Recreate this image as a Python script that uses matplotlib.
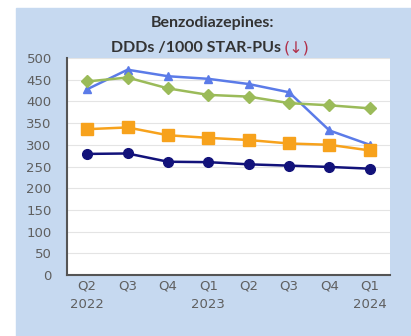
import numpy as np
import matplotlib.pyplot as plt
from matplotlib.patches import Rectangle

quarters = ["Q2\n2022", "Q3", "Q4", "Q1\n2023", "Q2", "Q3", "Q4", "Q1\n2024"]
blue_tri = [428, 473, 458, 452, 440, 421, 333, 300]
green_dia = [446, 455, 430, 415, 411, 396, 391, 384]
orange_sq = [336, 340, 322, 316, 311, 303, 300, 287]
navy_dot = [279, 280, 261, 260, 255, 252, 249, 245]

fig = plt.figure(figsize=(4.11, 3.36), dpi=100)
fig.patch.set_facecolor("white")
fig.patches.append(Rectangle((16 / 411, 0), 1, (336 - 8) / 336,
                             transform=fig.transFigure, color="#c6d9f0", zorder=-5))

ax = fig.add_axes([67 / 411, (336 - 275) / 336, 323 / 411, 217 / 336])
ax.set_zorder(5)
ax.set_facecolor("white")
x = np.arange(len(quarters))

ax.plot(x, blue_tri, "-^", color="#5b7be8", lw=1.8, ms=6)
ax.plot(x, green_dia, "-D", color="#9bbb59", lw=1.8, ms=6)
ax.plot(x, orange_sq, "-s", color="#f7a21c", lw=1.8, ms=8)
ax.plot(x, navy_dot, "-o", color="#12127a", lw=1.8, ms=7)

ax.set_xlim(-0.5, len(quarters) - 0.5)
ax.set_ylim(0, 500)
ax.set_yticks(range(0, 501, 50))
ax.set_xticks(x)
ax.set_xticklabels(quarters)
ax.grid(axis="y", color="#e4e4e4", lw=0.8)
ax.set_axisbelow(True)
for s in ["top", "right"]:
    ax.spines[s].set_visible(False)
for s in ["left", "bottom"]:
    ax.spines[s].set_color("#555555")
    ax.spines[s].set_linewidth(1.5)
ax.tick_params(length=0, colors="#5f5f5f", labelsize=9.5)
ax.tick_params(axis="y", pad=11)
ax.tick_params(axis="x", pad=3)
for lab in ax.get_xticklabels() + ax.get_yticklabels():
    lab.set_fontfamily("DejaVu Sans")
for lab in ax.get_xticklabels():
    lab.set_linespacing(1.55)

fig.text(212 / 411, 1 - 23 / 336, "Benzodiazepines:", ha="center", va="center",
         fontsize=11.5, fontweight="bold", family="Lato", color="#333333")
fig.text(281 / 411, 1 - 48 / 336, "DDDs /1000 STAR-PUs", ha="right", va="center",
         fontsize=11.5, fontweight="bold", family="Lato", color="#333333")
fig.text(284 / 411, 1 - 48 / 336, "(\u2193)", ha="left", va="center",
         fontsize=11.5, family=["DejaVu Sans"], color="#b0304a")

fig.savefig("out.png", dpi=100)
